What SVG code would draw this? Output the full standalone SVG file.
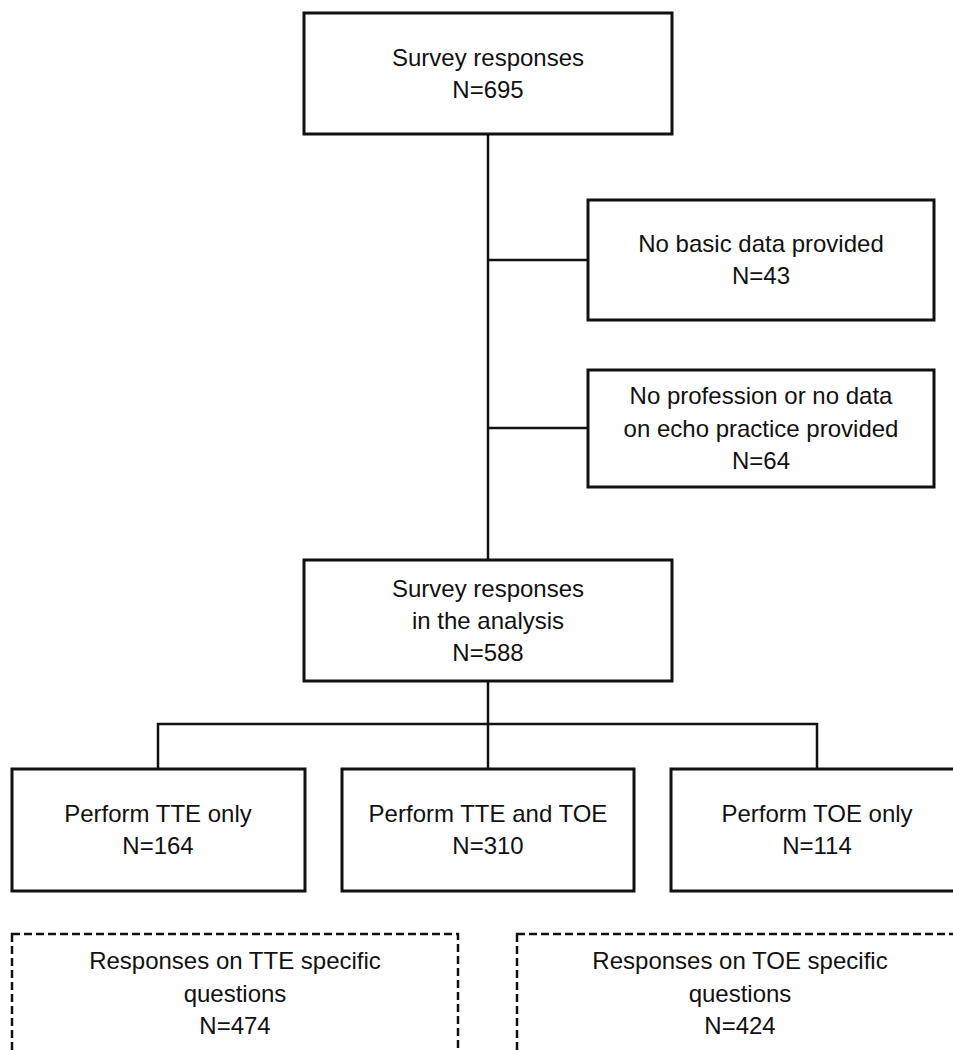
<svg xmlns="http://www.w3.org/2000/svg" width="953" height="1051" viewBox="0 0 953 1051">
<style>
.box{fill:#fff;stroke:#111;stroke-width:3}
.dash{fill:#fff;stroke:#111;stroke-width:2.5;stroke-dasharray:8 4}
.ln{stroke:#111;stroke-width:2.5;fill:none}
text{font-family:"Liberation Sans",Arial,sans-serif;font-size:24px;fill:#111;text-anchor:middle}
</style>
<rect width="953" height="1051" fill="#fff"/>
<g id="connectors">
<line class="ln" x1="488" y1="134" x2="488" y2="560"/>
<line class="ln" x1="488" y1="260" x2="588" y2="260"/>
<line class="ln" x1="488" y1="428" x2="588" y2="428"/>
<line class="ln" x1="488" y1="681" x2="488" y2="769"/>
<polyline class="ln" points="158,769 158,724 817,724 817,769"/>
</g>
<g id="n1">
<rect class="box" x="304" y="13" width="368" height="121"/>
<text x="488" y="66">Survey responses</text>
<text x="488" y="98">N=695</text>
</g>
<g id="n2">
<rect class="box" x="588" y="200" width="346" height="120"/>
<text x="761" y="252">No basic data provided</text>
<text x="761" y="284">N=43</text>
</g>
<g id="n3">
<rect class="box" x="588" y="370" width="346" height="117"/>
<text x="761" y="404">No profession or no data</text>
<text x="761" y="437">on echo practice provided</text>
<text x="761" y="469">N=64</text>
</g>
<g id="n4">
<rect class="box" x="304" y="560" width="368" height="121"/>
<text x="488" y="597">Survey responses</text>
<text x="488" y="629">in the analysis</text>
<text x="488" y="661">N=588</text>
</g>
<g id="n5">
<rect class="box" x="12" y="769" width="293" height="122"/>
<text x="158" y="822">Perform TTE only</text>
<text x="158" y="854">N=164</text>
</g>
<g id="n6">
<rect class="box" x="342" y="769" width="292" height="122"/>
<text x="488" y="822">Perform TTE and TOE</text>
<text x="488" y="854">N=310</text>
</g>
<g id="n7">
<rect class="box" x="671" y="769" width="292" height="122"/>
<text x="817" y="822">Perform TOE only</text>
<text x="817" y="854">N=114</text>
</g>
<g id="n8">
<rect class="dash" x="12" y="934" width="446" height="140"/>
<text x="235" y="969">Responses on TTE specific</text>
<text x="235" y="1002">questions</text>
<text x="235" y="1034">N=474</text>
</g>
<g id="n9">
<rect class="dash" x="517" y="934" width="446" height="140"/>
<text x="740" y="969">Responses on TOE specific</text>
<text x="740" y="1002">questions</text>
<text x="740" y="1034">N=424</text>
</g>
</svg>
